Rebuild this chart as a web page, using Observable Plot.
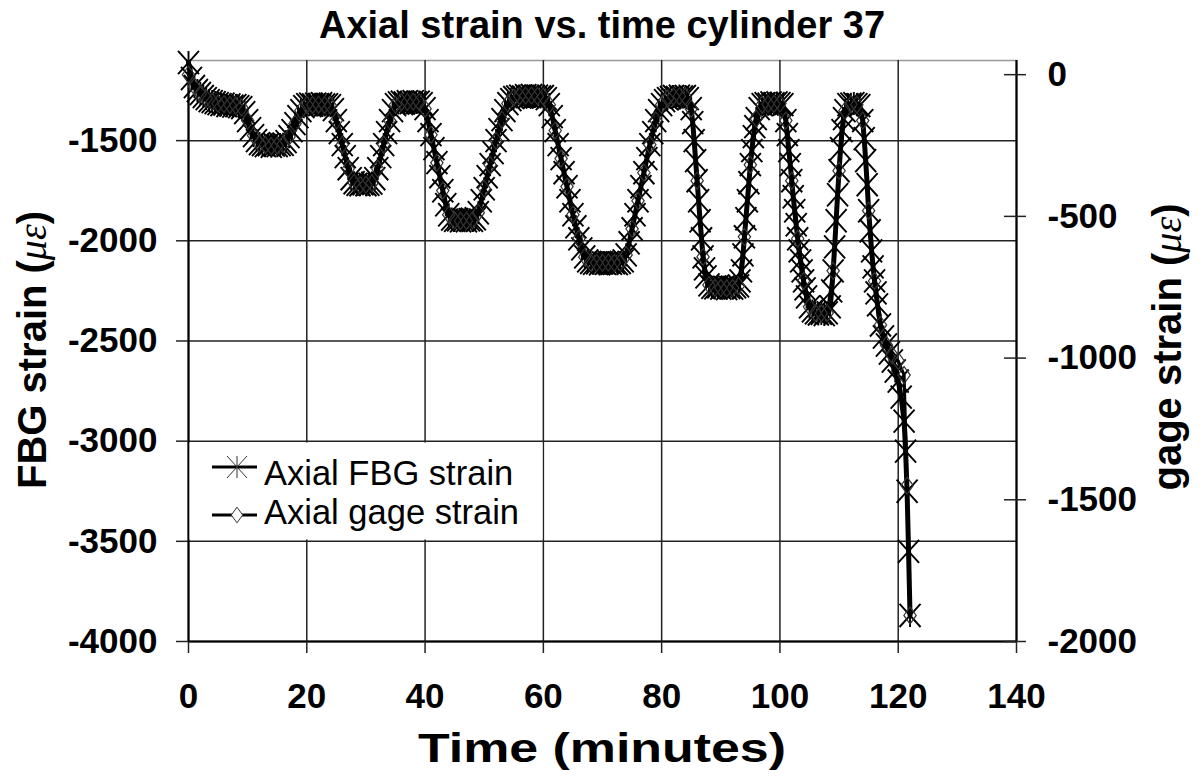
<!DOCTYPE html>
<html><head><meta charset="utf-8">
<script src="https://cdn.jsdelivr.net/npm/d3@7"></script>
<script src="https://cdn.jsdelivr.net/npm/@observablehq/plot@0.6"></script>
<style>
html,body{margin:0;padding:0;background:#fff;}
svg{display:block}
</style></head><body><div id="chart"></div>
<script>
// ---- data ----
const fbgTime = [0,0.5,1,1.5,2,2.5,3,3.5,4,4.5,5,5.5,6,6.5,7,7.5,8,8.5,9,9.5,10,10.5,11,11.5,12,12.5,13,13.5,14,14.5,15,15.5,16,16.5,17,17.5,18,18.5,19,19.5,20,20.5,21,21.5,22,22.5,23,23.5,24,24.5,25,25.5,26,26.5,27,27.5,28,28.5,29,29.5,30,30.5,31,31.5,32,32.5,33,33.5,34,34.5,35,35.5,36,36.5,37,37.5,38,38.5,39,39.5,40,40.5,41,41.5,42,42.5,43,43.5,44,44.5,45,45.5,46,46.5,47,47.5,48,48.5,49,49.5,50,50.5,51,51.5,52,52.5,53,53.5,54,54.5,55,55.5,56,56.5,57,57.5,58,58.5,59,59.5,60,60.5,61,61.5,62,62.5,63,63.5,64,64.5,65,65.5,66,66.5,67,67.5,68,68.5,69,69.5,70,70.5,71,71.5,72,72.5,73,73.5,74,74.5,75,75.5,76,76.5,77,77.5,78,78.5,79,79.5,80,80.5,81,81.5,82,82.5,83,83.5,84,84.5,85,85.5,86,86.5,87,87.5,88,88.5,89,89.5,90,90.5,91,91.5,92,92.5,93,93.5,94,94.5,95,95.5,96,96.5,97,97.5,98,98.5,99,99.5,100,100.5,101,101.5,102,102.5,103,103.5,104,104.5,105,105.5,106,106.5,107,107.5,108,108.5,109,109.5,110,110.5,111,111.5,112,112.5,113,113.5,114,114.5,115,115.5,116,116.5,117,117.5,118,118.5,119,119.5,120,120.5,121,121.5,122];
const fbgStrain = [
-1110,-1190,-1230,-1250,-1265,-1280,-1290,-1300,-1305,-1310,
-1315,-1320,-1318,-1325,-1322,-1328,-1325,-1330,-1335,-1360,
-1400,-1440,-1475,-1500,-1515,-1520,-1525,-1520,-1528,-1522,
-1525,-1520,-1518,-1505,-1480,-1450,-1415,-1380,-1350,-1330,
-1320,-1318,-1322,-1318,-1320,-1316,-1322,-1320,-1325,-1345,
-1400,-1460,-1520,-1580,-1640,-1690,-1710,-1718,-1720,-1715,
-1720,-1718,-1712,-1690,-1640,-1580,-1520,-1460,-1400,-1350,
-1320,-1312,-1308,-1312,-1306,-1310,-1305,-1310,-1308,-1315,
-1340,-1400,-1470,-1540,-1610,-1680,-1750,-1820,-1870,-1892,
-1898,-1895,-1900,-1896,-1900,-1895,-1898,-1890,-1860,-1800,
-1740,-1680,-1620,-1560,-1500,-1445,-1395,-1350,-1315,-1295,
-1285,-1282,-1278,-1282,-1276,-1280,-1275,-1280,-1278,-1282,
-1280,-1290,-1320,-1380,-1450,-1520,-1590,-1660,-1730,-1800,
-1870,-1930,-1990,-2040,-2080,-2100,-2108,-2112,-2110,-2115,
-2110,-2112,-2108,-2112,-2110,-2114,-2108,-2100,-2070,-2010,
-1940,-1870,-1800,-1730,-1660,-1590,-1520,-1460,-1400,-1350,
-1320,-1300,-1290,-1285,-1280,-1284,-1278,-1282,-1280,-1290,
-1340,-1500,-1700,-1900,-2080,-2180,-2220,-2232,-2235,-2230,
-2236,-2232,-2238,-2233,-2236,-2230,-2225,-2150,-1980,-1800,
-1620,-1480,-1390,-1340,-1320,-1315,-1318,-1312,-1316,-1312,
-1315,-1320,-1400,-1550,-1700,-1850,-1990,-2100,-2200,-2280,
-2330,-2350,-2360,-2365,-2362,-2368,-2360,-2330,-2150,-1900,
-1650,-1450,-1350,-1320,-1318,-1315,-1320,-1325,-1400,-1600,
-1850,-2050,-2200,-2320,-2420,-2480,-2520,-2560,-2600,-2650,
-2700,-2780,-2900,-3250,-3870];
// extra FBG readings where the record is sampled densely (fast load changes)
const fbgTimeFast = [85.25,85.75,86.25,86.75,87.25,93.25,93.75,94.25,94.75,95.25,95.75,101.25,101.75,102.25,102.75,103.25,103.75,104.25,108.75,109.25,109.75,110.25,110.75,114.25,114.75,115.25,115.75,116.25,121.25,121.75];
const fbgStrainFast = [-1410,-1600,-1800,-1990,-2140,-2200,-2070,-1890,-1710,-1550,-1430,-1470,-1620,-1780,-1920,-2050,-2150,-2240,-2250,-2030,-1770,-1540,-1390,-1490,-1720,-1950,-2130,-2260,-3050,-3550];
const gageTime = [0,1,2,3,4,5,6,7,8,9,10,11,12,13,14,15,16,17,18,19,20,21,22,23,24,25,26,27,28,29,30,31,32,33,34,35,36,37,38,39,40,41,42,43,44,45,46,47,48,49,50,51,52,53,54,55,56,57,58,59,60,61,62,63,64,65,66,67,68,69,70,71,72,73,74,75,76,77,78,79,80,81,82,83,84,85,86,87,88,89,90,91,92,93,94,95,96,97,98,99,100,101,102,103,104,105,106,107,108,109,110,111,112,113,114,115,116,117,118,119,120,121,121.5,122];
const gageStrain = [
0,-42,-67,-84,-95,-102,-104,-107,-109,-116,
-162,-215,-243,-248,-252,-250,-245,-219,-173,-127,
-106,-107,-106,-107,-109,-162,-247,-332,-381,-390,
-388,-383,-332,-247,-162,-106,-97,-96,-95,-97,
-120,-212,-311,-409,-494,-514,-516,-516,-514,-487,
-402,-318,-233,-159,-102,-81,-76,-74,-74,-76,
-77,-106,-197,-296,-395,-494,-579,-643,-663,-664,
-664,-663,-664,-663,-636,-544,-445,-346,-247,-162,
-106,-84,-77,-76,-77,-120,-374,-643,-742,-752,
-753,-754,-753,-745,-572,-318,-155,-106,-104,-103,
-102,-162,-374,-579,-728,-819,-841,-842,-841,-692,
-339,-127,-104,-106,-162,-480,-728,-883,-954,-990,
-1010,-1060,-1450,-1908];
const xTicks = [0,20,40,60,80,100,120,140];
const fbgTicks = [-4000,-3500,-3000,-2500,-2000,-1500];
const gageTicks = [0,-500,-1000,-1500,-2000];
const xDomain = [0,140];
const fbgDomain = [-4000,-1100];
const gageDomain = [-2000,50];
const seriesNames = ["Axial FBG strain","Axial gage strain"];
const titleText = "Axial strain vs. time cylinder 37";
const xLabel = "Time (minutes)";

// ---- build ----
const gageToFbg = d3.scaleLinear().domain(gageDomain).range(fbgDomain);
const fbgData = fbgTime.map((t,i)=>({t, v: fbgStrain[i]}))
  .concat(fbgTimeFast.map((t,i)=>({t, v: fbgStrainFast[i]})))
  .sort((a,b)=>a.t-b.t);
const gageData = gageTime.map((t,i)=>({t, v: gageToFbg(gageStrain[i])}));

const starSymbol = {draw(ctx, size){
  const r = Math.sqrt(size/Math.PI), w = r, h = r*1.1;
  ctx.moveTo(-w,-h); ctx.lineTo(w,h);
  ctx.moveTo(w,-h); ctx.lineTo(-w,h);
  ctx.moveTo(0,-h); ctx.lineTo(0,h);
}};
const diamondSymbol = {draw(ctx, size){
  const r = Math.sqrt(size/Math.PI), w = r*0.95, h = r*1.3;
  ctx.moveTo(0,-h); ctx.lineTo(w,0); ctx.lineTo(0,h); ctx.lineTo(-w,0); ctx.closePath();
}};

const font = "'Liberation Sans', Arial, sans-serif";
const gridStyle = {stroke:"#222", strokeOpacity:1, strokeWidth:1.5};

const svg = Plot.plot({
  width:1203, height:780,
  marginLeft:188, marginRight:187, marginTop:60, marginBottom:139,
  x:{domain:xDomain},
  y:{domain:fbgDomain},
  style:{fontFamily:font, fontSize:"35px", fontWeight:"bold", color:"black", background:"white", overflow:"visible"},
  marks:[
    Plot.frame({stroke:"#999", strokeWidth:1.5}),
    Plot.gridX(xTicks, gridStyle),
    Plot.gridY(fbgTicks, gridStyle),
    Plot.ruleX([xDomain[0], xDomain[1]], {stroke:"black", strokeWidth:2}),
    Plot.ruleY([fbgDomain[0]], {stroke:"black", strokeWidth:2}),
    Plot.axisX(xTicks, {tickSize:12, tickPadding:30, tickFormat:d=>String(d), label:null, stroke:"#222", strokeWidth:1.5, fontSize:35, fontWeight:"bold"}),
    Plot.axisY(fbgTicks, {anchor:"left", tickSize:12, tickPadding:19, tickFormat:d=>String(d), label:null, stroke:"#222", strokeWidth:1.5, fontSize:35, fontWeight:"bold"}),
    Plot.axisY(gageTicks.map(gageToFbg), {anchor:"right", tickSize:22, dx:-13, tickFormat:()=>"", label:null, stroke:"#222", strokeWidth:1.5}),
    Plot.axisY(gageTicks.map(gageToFbg), {anchor:"right", tickSize:0, tickPadding:31, tickFormat:d=>String(Math.round(gageToFbg.invert(d))), label:null, fontSize:35, fontWeight:"bold"}),
    Plot.line(fbgData, {x:"t", y:"v", stroke:"black", strokeWidth:5}),
    Plot.dot(fbgData, {x:"t", y:"v", symbol:starSymbol, r:10.5, fill:"none", stroke:"black", strokeWidth:1.9}),
    Plot.line(gageData, {x:"t", y:"v", stroke:"black", strokeWidth:3}),
    Plot.dot(gageData, {x:"t", y:"v", symbol:diamondSymbol, r:6.5, fill:"none", stroke:"#333", strokeWidth:1.2})
  ]
});

const s = d3.select(svg);
const cx = (188 + (1203-187))/2;
s.append("text").attr("x", cx).attr("y", 38).attr("text-anchor","middle")
  .attr("font-family", font).attr("font-size", 38).attr("font-weight","bold").text(titleText);
s.append("text").attr("x", cx).attr("y", 762).attr("text-anchor","middle")
  .attr("font-family", font).attr("font-size", 40).attr("font-weight","bold")
  .attr("textLength", 368).attr("lengthAdjust","spacingAndGlyphs").text(xLabel);

function yLabel(x, y, main){
  const t = s.append("text").attr("transform", `translate(${x},${y}) rotate(-90)`)
    .attr("text-anchor","middle").attr("font-family", font).attr("font-size", 40).attr("font-weight","bold");
  t.append("tspan").text(main + " (");
  t.append("tspan").attr("font-family","'Liberation Serif', serif").attr("font-style","italic").attr("font-weight","normal").text("με");
  t.append("tspan").text(")");
}
yLabel(46, 350, "FBG strain");
yLabel(1181, 347, "gage strain");

// legend
const lg = s.append("g");
lg.append("rect").attr("x",189.5).attr("y",442.5).attr("width",353).attr("height",97).attr("fill","white");
const rows = [
  {y:467, sym:starSymbol, r:10, name:seriesNames[0], ty:485},
  {y:515, sym:diamondSymbol, r:6, name:seriesNames[1], ty:524}
];
rows.forEach(row=>{
  lg.append("line").attr("x1",212).attr("x2",257).attr("y1",row.y).attr("y2",row.y).attr("stroke","black").attr("stroke-width",3);
  lg.append("path").attr("transform",`translate(237,${row.y})`)
    .attr("d", d3.symbol(row.sym, row.r*row.r*Math.PI)())
    .attr("fill", row.sym===diamondSymbol ? "white" : "none").attr("stroke","#333").attr("stroke-width",1);
  lg.append("text").attr("x",264).attr("y",row.ty).attr("text-anchor","start")
    .attr("font-family",font).attr("font-size",34.5).attr("font-weight","normal").text(row.name);
});

document.getElementById("chart").appendChild(svg);
</script>
</body></html>
